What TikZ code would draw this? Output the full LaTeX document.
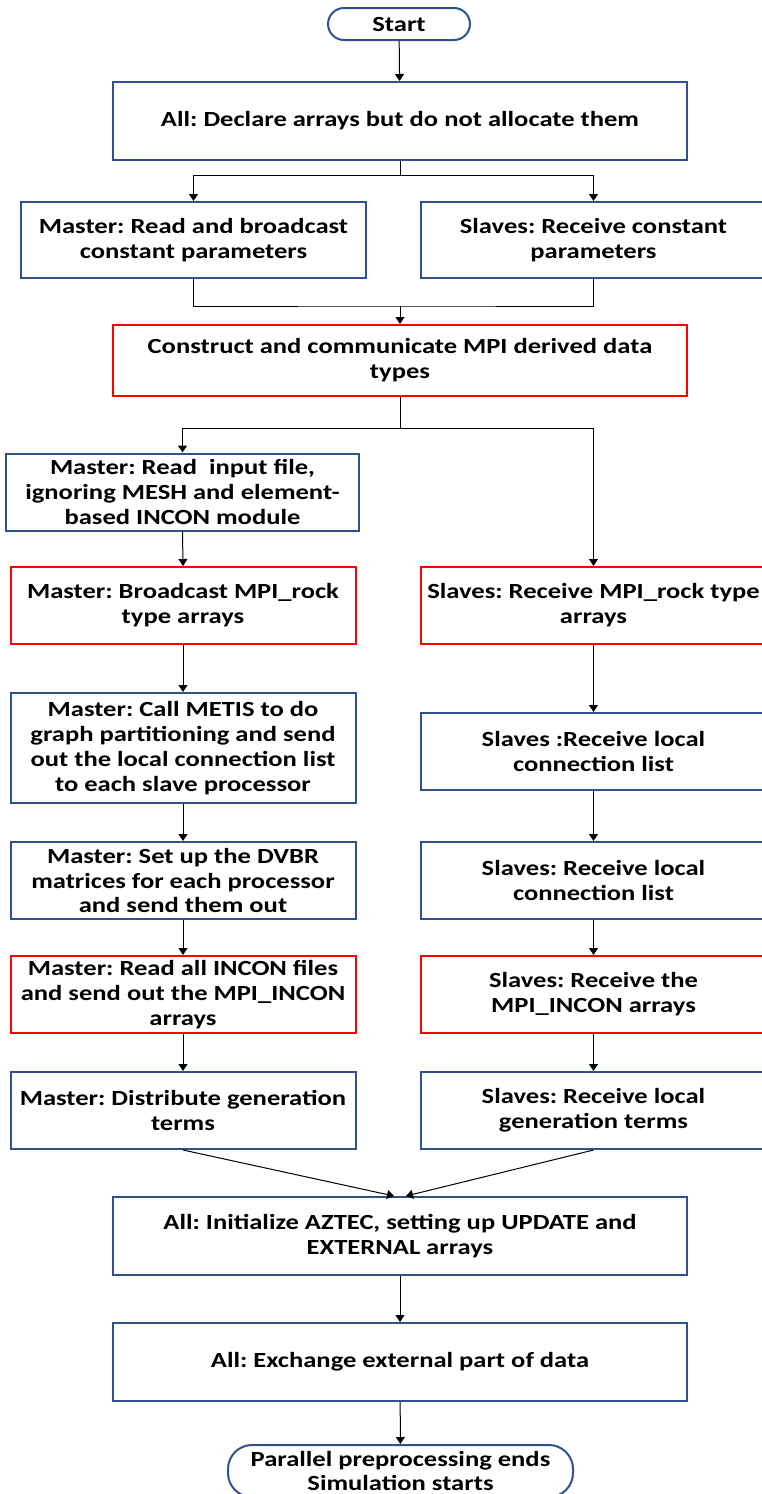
\documentclass[tikz,border=0pt]{standalone}
\usepackage{fontspec}
\setmainfont{Carlito}[FakeStretch=1.23]
\usepackage{xcolor}
\usepackage{tikz}
\usetikzlibrary{arrows.meta,positioning,calc}
\frenchspacing

\definecolor{boxblue}{RGB}{47,82,143}
\definecolor{boxred}{RGB}{255,0,0}

\begin{document}
\begin{tikzpicture}[x=0.5pt, y=-0.5pt, every node/.style={font=\bfseries\fontsize{10.8}{12.4}\selectfont, align=center}, blk/.style={draw=boxblue,line width=1pt,minimum width=172.5pt,minimum height=38.5pt,inner sep=0.5pt}, rblk/.style={blk,draw=boxred}, wide/.style={minimum width=287pt}, term/.style={draw=boxblue,line width=1pt,rounded corners=8pt,minimum width=71pt,minimum height=16pt,inner sep=0pt}, arr/.style={-{Triangle[length=3.5pt,width=4.5pt]},line width=0.5pt}]
    \useasboundingbox (0,0) rectangle (761,1494);
    \node[term] (start) at (399,24) {Start};
    \node[blk,wide,minimum height=39pt] (declare) at (400,121) {All: Declare arrays but do not allocate them};
    \node[blk,minimum height=38pt] (mread) at (193.5,240) {Master: Read and broadcast\\constant parameters};
    \node[blk,minimum height=38pt] (sread) at (593.5,240) {Slaves: Receive constant\\parameters};
    \node[rblk,wide,minimum height=35.5pt] (construct) at (400,360.5) {Construct and communicate MPI derived data\\types};
    \node[blk,minimum width=176.5pt] (minput) at (182.5,492) {Master: Read\ \ input file,\\ignoring MESH and element-\\based INCON module};
    \node[rblk] (mrock) at (183,605.5) {Master: Broadcast MPI\_rock\\type arrays};
    \node[rblk] (srock) at (593.5,605.5) {Slaves: Receive MPI\_rock type\\arrays};
    \node[blk,minimum height=55pt] (mmetis) at (183,748) {Master: Call METIS to do\\graph partitioning and send\\out the local connection list\\to each slave processor};
    \node[blk] (sconn) at (593.5,751.5) {Slaves :Receive local\\connection list};
    \node[blk] (mdvbr) at (183,880.5) {Master: Set up the DVBR\\matrices for each processor\\and send them out};
    \node[blk] (sconnb) at (593.5,880.5) {Slaves: Receive local\\connection list};
    \node[rblk] (mincon) at (183,994.5) {Master: Read all INCON files\\and send out the MPI\_INCON\\arrays};
    \node[rblk] (sincon) at (593.5,994.5) {Slaves: Receive the\\MPI\_INCON arrays};
    \node[blk] (mgen) at (183,1110.5) {Master: Distribute generation\\terms};
    \node[blk] (sgen) at (593.5,1110.5) {Slaves: Receive local\\generation terms};
    \node[blk,wide,minimum height=39pt] (aztec) at (400,1236) {All: Initialize AZTEC, setting up UPDATE and\\EXTERNAL arrays};
    \node[blk,wide,minimum height=39pt] (exchange) at (400,1362) {All: Exchange external part of data};
    \node[term,rounded corners=12pt,minimum width=172.5pt,minimum height=26pt] (stop) at (400.5,1471) {Parallel preprocessing ends\\Simulation starts};

    \coordinate (split1) at (400,175);
    \coordinate (merge1) at (400,306);
    \coordinate (split2) at (400,428);
    \draw[arr] (start) -- (declare);
    \draw[line width=0.5pt] (declare.south) -- (split1);
    \draw[arr] (split1) -| (mread.north);
    \draw[arr] (split1) -| (sread.north);
    \draw[line width=0.5pt] (mread.south) |- (merge1) -| (sread.south);
    \draw[arr] (merge1) -- (construct.north);
    \draw[line width=0.5pt] (construct.south) -- (split2);
    \draw[arr] (split2) -| (minput.north);
    \draw[arr] (split2) -| (srock.north);
    \foreach \a/\b in {minput/mrock,mrock/mmetis,mmetis/mdvbr,mdvbr/mincon,mincon/mgen,srock/sconn,sconn/sconnb,sconnb/sincon,sincon/sgen}{
      \draw[arr] (\a.south) -- (\b.north);
    }
    \draw[arr] (mgen.south) -- ([xshift=-3pt]aztec.north);
    \draw[arr] (sgen.south) -- ([xshift=3pt]aztec.north);
    \draw[arr] (aztec) -- (exchange);
    \draw[arr] (exchange) -- (stop);
\end{tikzpicture}
\end{document}
